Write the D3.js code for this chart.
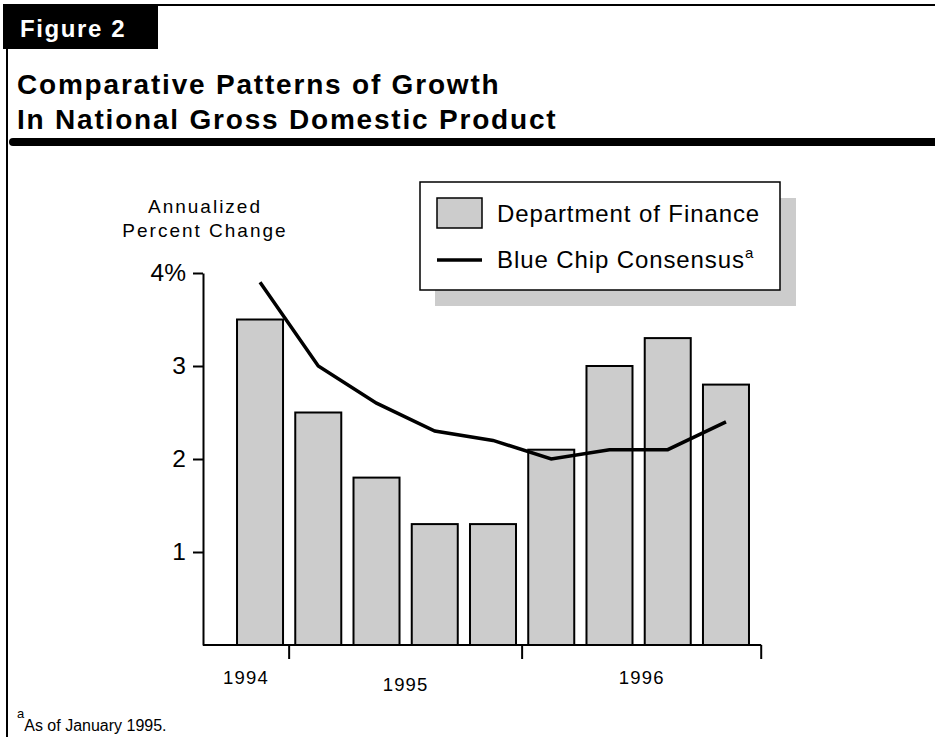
<!DOCTYPE html>
<html>
<head>
<meta charset="utf-8">
<script src="https://cdn.jsdelivr.net/npm/d3@7"></script>
<style>
  html, body { margin: 0; padding: 0; background: #fff; }
  svg { display: block; font-family: "Liberation Sans", Arial, Helvetica, sans-serif; }
</style>
</head>
<body>
<svg id="chart" width="935" height="737"></svg>
<script>
// Quarterly GDP growth, annualized percent change
const quarters = ["1994 Q4", "1995 Q1", "1995 Q2", "1995 Q3", "1995 Q4",
                  "1996 Q1", "1996 Q2", "1996 Q3", "1996 Q4"];
const financeValues = [3.5, 2.5, 1.8, 1.3, 1.3, 2.1, 3.0, 3.3, 2.8];
const blueChipValues = [3.9, 3.0, 2.6, 2.3, 2.2, 2.0, 2.1, 2.1, 2.4];
const yTicks = [1, 2, 3, 4];
const years = ["1994", "1995", "1996"];
const seriesNames = ["Department of Finance", "Blue Chip Consensus"];

const svg = d3.select("#chart");

// ---- Header frame ----
svg.append("rect").attr("x", 3).attr("y", 4).attr("width", 155).attr("height", 45).attr("fill", "#000");
svg.append("text").attr("x", 20).attr("y", 37)
  .attr("fill", "#fff").attr("font-weight", "bold").attr("font-size", 24)
  .attr("letter-spacing", 1.6).text("Figure 2");
svg.append("line").attr("x1", 158).attr("x2", 935).attr("y1", 5).attr("y2", 5)
  .attr("stroke", "#000").attr("stroke-width", 2);
svg.append("line").attr("x1", 7).attr("x2", 7).attr("y1", 48).attr("y2", 737)
  .attr("stroke", "#000").attr("stroke-width", 2);
svg.append("line").attr("x1", 13).attr("x2", 940).attr("y1", 142).attr("y2", 142)
  .attr("stroke", "#000").attr("stroke-width", 8).attr("stroke-linecap", "round");

const title = svg.append("text").attr("font-weight", "bold").attr("font-size", 28)
  .attr("letter-spacing", 1.8).attr("fill", "#000");
title.append("tspan").attr("x", 17).attr("y", 94).text("Comparative Patterns of Growth");
title.append("tspan").attr("x", 17).attr("y", 129).text("In National Gross Domestic Product");

// ---- Scales ----
const y = d3.scaleLinear().domain([0, 4]).range([645, 273]);
const x = d3.scaleBand().domain(quarters).range([230.9, 755.1])
  .paddingInner(0.21).paddingOuter(0.105);
const gap = x.step() - x.bandwidth();
const axisX0 = 203;
const axisX1 = x(quarters[quarters.length - 1]) + x.bandwidth() + gap;

// ---- Bars ----
svg.append("g").selectAll("rect").data(quarters).join("rect")
  .attr("x", d => x(d))
  .attr("y", (d, i) => y(financeValues[i]))
  .attr("width", x.bandwidth())
  .attr("height", (d, i) => y(0) - y(financeValues[i]))
  .attr("fill", "#cccccc").attr("stroke", "#000").attr("stroke-width", 2);

// ---- Y axis ----
const yAxis = svg.append("g").attr("transform", `translate(${axisX0},0)`)
  .call(d3.axisLeft(y).tickValues(yTicks).tickSize(10).tickSizeOuter(0).tickPadding(7)
    .tickFormat(d => d === 4 ? "4%" : d3.format("d")(d)));
yAxis.select(".domain").attr("stroke-width", 2);
yAxis.selectAll(".tick line").attr("stroke-width", 2);
yAxis.selectAll(".tick text").attr("font-size", 24.5).attr("font-family", "Liberation Sans, Arial, sans-serif").attr("fill", "#000");

const yTitle = svg.append("text").attr("text-anchor", "middle").attr("font-size", 19)
  .attr("letter-spacing", 2).attr("fill", "#000");
yTitle.append("tspan").attr("x", 205).attr("y", 213).text("Annualized");
yTitle.append("tspan").attr("x", 205).attr("y", 237).text("Percent Change");

// ---- X axis: baseline with year separators ----
svg.append("line").attr("x1", axisX0).attr("x2", axisX1).attr("y1", y(0)).attr("y2", y(0))
  .attr("stroke", "#000").attr("stroke-width", 2);

const yearStart = yr => quarters.findIndex(q => q.startsWith(yr));
const bounds = years.map((yr, i) => {
  const left = i === 0 ? axisX0 : x(quarters[yearStart(yr)]) - gap / 2;
  const next = years[i + 1];
  const right = next ? x(quarters[yearStart(next)]) - gap / 2 : axisX1;
  return { yr, left, right };
});
svg.append("g").selectAll("line").data(bounds).join("line")
  .attr("x1", d => d.right).attr("x2", d => d.right)
  .attr("y1", y(0)).attr("y2", y(0) + 14)
  .attr("stroke", "#000").attr("stroke-width", 2);
svg.append("g").selectAll("text").data(bounds).join("text")
  .attr("x", d => (d.left + d.right) / 2)
  .attr("y", (d, i) => i === 1 ? 691 : 684)
  .attr("text-anchor", "middle").attr("font-size", 18.5).attr("letter-spacing", 1.2)
  .attr("fill", "#000").text(d => d.yr);

// ---- Blue Chip line ----
const line = d3.line()
  .x((d, i) => x(quarters[i]) + x.bandwidth() / 2)
  .y(d => y(d));
svg.append("path").datum(blueChipValues).attr("d", line)
  .attr("fill", "none").attr("stroke", "#000").attr("stroke-width", 3.5);

// ---- Legend ----
const lg = svg.append("g").attr("transform", "translate(420,182)");
lg.append("rect").attr("x", 15).attr("y", 16).attr("width", 361).attr("height", 108).attr("fill", "#cccccc");
lg.append("rect").attr("x", 0).attr("y", 0).attr("width", 360).attr("height", 108)
  .attr("fill", "#fff").attr("stroke", "#000").attr("stroke-width", 1.5);
lg.append("rect").attr("x", 17).attr("y", 16).attr("width", 45).attr("height", 30)
  .attr("fill", "#cccccc").attr("stroke", "#000").attr("stroke-width", 1.5);
lg.append("line").attr("x1", 17).attr("x2", 62).attr("y1", 78).attr("y2", 78)
  .attr("stroke", "#000").attr("stroke-width", 3.5);
lg.append("text").attr("x", 77).attr("y", 40).attr("font-size", 24).attr("letter-spacing", 0.9)
  .attr("fill", "#000").text(seriesNames[0]);
const lt = lg.append("text").attr("x", 77).attr("y", 86).attr("font-size", 24).attr("letter-spacing", 0.9)
  .attr("fill", "#000");
lt.append("tspan").text(seriesNames[1]);
lt.append("tspan").attr("dy", -10).attr("font-size", 15).attr("letter-spacing", 0).text("a");

// ---- Footnote ----
const fn = svg.append("text").attr("x", 17).attr("y", 718).attr("fill", "#000");
fn.append("tspan").attr("font-size", 13).text("a");
fn.append("tspan").attr("dy", 13).attr("font-size", 16).text("As of January 1995.");
</script>
</body>
</html>
